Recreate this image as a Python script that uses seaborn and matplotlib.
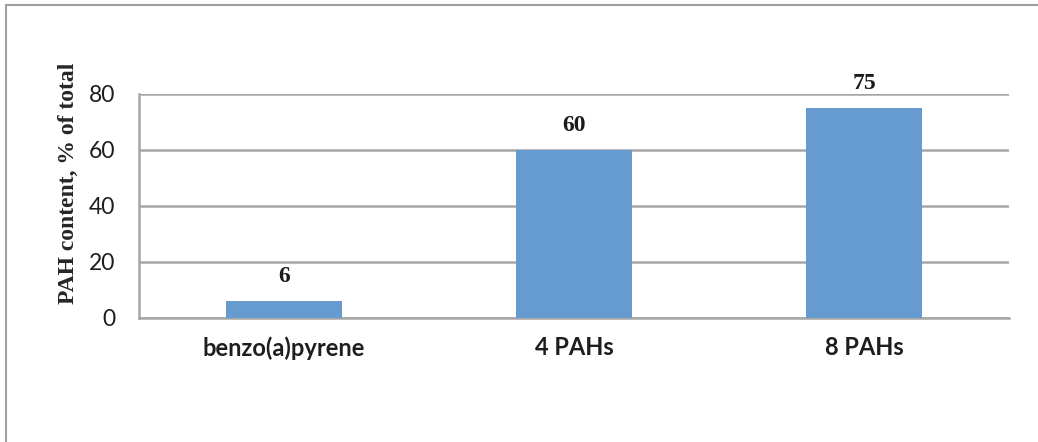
import matplotlib
matplotlib.use("Agg")
import matplotlib.pyplot as plt
import matplotlib.patches
import pandas as pd
import seaborn as sns

categories = ["benzo(a)pyrene", "4 PAHs", "8 PAHs"]
values = [6, 60, 75]
y_ticks = [0, 20, 40, 60, 80]

df = pd.DataFrame({"group": categories, "share": values})

sns.set_style("white")
plt.rcParams["font.family"] = ["Lato", "DejaVu Sans"]

fig = plt.figure(figsize=(10.38, 4.42), dpi=100)
ax = fig.add_axes([139 / 1038, 1 - 318 / 442, 870 / 1038, 224 / 442])

sns.barplot(data=df, x="group", y="share", color="#659bcf",
            saturation=1, width=0.4, linewidth=0, ax=ax, zorder=3)

ax.set_ylim(0, 80)
ax.set_yticks(y_ticks)
ax.set_xlim(-0.5, 2.5)
ax.set_xticks(range(len(categories)))
ax.set_xticklabels(categories, fontweight="bold")
ax.yaxis.grid(True, color="#a6a6a6", linewidth=1.8, zorder=0)
ax.set_axisbelow(True)

for side in ["top", "right"]:
    ax.spines[side].set_visible(False)
for side in ["left", "bottom"]:
    ax.spines[side].set_color("#a6a6a6")
    ax.spines[side].set_linewidth(1.8)

ax.tick_params(axis="y", length=0, labelsize=16.5, pad=17, colors="#1e1e1e")
ax.tick_params(axis="x", length=0, labelsize=17, pad=13, colors="#1e1e1e")

ax.set_xlabel("")
ax.set_ylabel("PAH content, % of total", fontsize=17, fontweight="bold",
              family="Liberation Serif")
ax.yaxis.set_label_coords(-0.069, 0.60)

for i, v in enumerate(values):
    ax.text(i, v + 5, str(v), ha="center", va="bottom", fontsize=17,
            fontweight="bold", family="Liberation Serif", color="#1a1a1a")

# outer frame of the chart area (only top and left edges visible)
frame = matplotlib.patches.Rectangle(
    (6 / 1038, -0.1), 1.2, 1.1 - 5 / 442, transform=fig.transFigure,
    fill=False, edgecolor="#a0a0a0", linewidth=1.5)
fig.patches.append(frame)

fig.savefig("out.png", dpi=100)
plt.close(fig)
